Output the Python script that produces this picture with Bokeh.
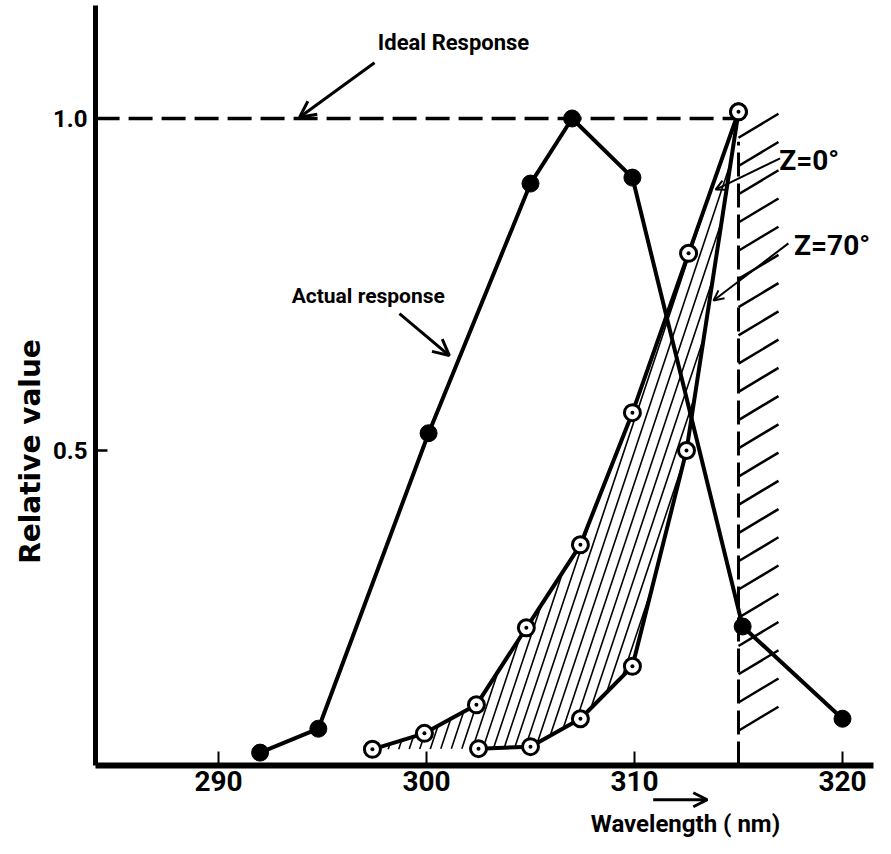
import numpy as np
from bokeh.plotting import figure
from bokeh.models import Range1d, FixedTicker, Label, Arrow, OpenHead
from bokeh.embed import file_html
from bokeh.resources import INLINE

# ---------------- data ----------------
actual_x = [292.0, 294.8, 300.1, 305.0, 307.0, 309.9, 315.2, 320.0]
actual_y = [0.045, 0.081, 0.526, 0.902, 1.000, 0.911, 0.235, 0.096]

z0_x = [297.4, 299.9, 302.4, 304.8, 307.4, 309.9, 312.6, 315.0]
z0_y = [0.050, 0.074, 0.117, 0.233, 0.358, 0.557, 0.797, 1.010]

z70_x = [302.5, 305.0, 307.4, 309.9, 312.5, 315.0]
z70_y = [0.051, 0.054, 0.096, 0.175, 0.500, 1.010]

cutoff_x = 315.0
x_ticks = [290, 300, 310, 320]
y_ticks = [0.5, 1.0]
y_tick_labels = {0.5: "0.5", 1.0: "1.0"}

# axis extents (data units)
AX_X0, AX_X1 = 284.09, 321.5
AX_Y0, AX_Y1 = 0.0256, 1.170

ideal_x = [AX_X0, cutoff_x]
ideal_y = [1.0, 1.0]

# ---------------- layout ----------------
W, H = 875, 838
X0, X1 = 279.519, 321.587
Y0, Y1 = -0.08434, 1.17771
SX = W / (X1 - X0)
SY = H / (Y1 - Y0)

FONT = "Roboto"

p = figure(width=W, height=H, output_backend="svg", toolbar_location=None,
           x_range=Range1d(X0, X1), y_range=Range1d(Y0, Y1),
           min_border_left=0, min_border_right=0, min_border_top=0,
           min_border_bottom=0)
p.outline_line_color = None
p.xgrid.visible = False
p.ygrid.visible = False
p.background_fill_color = "white"
p.border_fill_color = "white"

xa = p.xaxis[0]
xa.fixed_location = AX_Y0
xa.bounds = (AX_X0, AX_X1)
xa.ticker = FixedTicker(ticks=x_ticks)
xa.axis_line_width = 6
xa.axis_line_color = "black"
xa.major_tick_in = 14
xa.major_tick_out = 0
xa.major_tick_line_width = 2
xa.minor_tick_line_color = None
xa.major_label_text_font = FONT
xa.major_label_text_font_size = "28px"
xa.major_label_text_font_style = "bold"
xa.major_label_text_color = "black"
xa.major_label_standoff = 6

ya = p.yaxis[0]
ya.fixed_location = AX_X0
ya.bounds = (AX_Y0, AX_Y1)
ya.ticker = FixedTicker(ticks=y_ticks)
ya.major_label_overrides = y_tick_labels
ya.axis_line_width = 5
ya.axis_line_color = "black"
ya.major_tick_in = 12
ya.major_tick_out = 0
ya.major_tick_line_width = 2.5
ya.minor_tick_line_color = None
ya.major_label_text_font = FONT
ya.major_label_text_font_size = "24px"
ya.major_label_text_font_style = "bold"
ya.major_label_text_color = "black"
ya.major_label_standoff = 8


def to_px(x, y):
    return (np.asarray(x) - X0) * SX, (np.asarray(y) - Y0) * SY


def to_data(X, Y):
    return X0 + np.asarray(X) / SX, Y0 + np.asarray(Y) / SY


# ---------------- hatching between the two Z curves ----------------
poly_x = list(z0_x) + list(z70_x[::-1])
poly_y = list(z0_y) + list(z70_y[::-1])
PX, PY = to_px(poly_x, poly_y)
K = 3.0         # hatch slope in screen pixels
SPACING = 10.5  # hatch spacing in pixels
U = PX - PY / K
hx, hy = [], []
n = len(PX)
for c in np.arange(U.min() + SPACING / 2, U.max(), SPACING):
    pts = []
    for i in range(n):
        j = (i + 1) % n
        if (U[i] - c) * (U[j] - c) < 0:
            t = (c - U[i]) / (U[j] - U[i])
            pts.append((PX[i] + t * (PX[j] - PX[i]), PY[i] + t * (PY[j] - PY[i])))
    pts.sort(key=lambda q: q[1])
    for a in range(0, len(pts) - 1, 2):
        dx, dy = to_data([pts[a][0], pts[a + 1][0]], [pts[a][1], pts[a + 1][1]])
        hx.append([float(v) for v in dx])
        hy.append([float(v) for v in dy])
p.multi_line(hx, hy, line_color="black", line_width=1.6)

# ---------------- cut-off line with hatch ticks ----------------
p.line([cutoff_x, cutoff_x], [AX_Y0, 0.965], line_color="black", line_width=3,
       line_dash="24 7")
tick_y = np.linspace(0.078, 0.971, 22)
tick_dx = 40 / SX
tick_dy = 24 / SY
p.multi_line([[cutoff_x, cutoff_x + tick_dx] for _ in tick_y],
             [[float(ty), float(ty + tick_dy)] for ty in tick_y],
             line_color="black", line_width=2.5)

# ---------------- ideal response ----------------
p.line(ideal_x, ideal_y, line_color="black", line_width=3.5, line_dash="24 9")

# ---------------- curves ----------------
p.line(actual_x, actual_y, line_color="black", line_width=4)
p.scatter(actual_x, actual_y, size=17, marker="circle", fill_color="black",
          line_color="black")

p.line(z0_x, z0_y, line_color="black", line_width=4)
p.line(z70_x, z70_y, line_color="black", line_width=4)
p.scatter(z0_x, z0_y, size=16, marker="circle_dot", fill_color="white",
          line_color="black", line_width=3)
p.scatter(z70_x, z70_y, size=16, marker="circle_dot", fill_color="white",
          line_color="black", line_width=3)

# ---------------- annotations ----------------
def lab(x, y, text, size, font=FONT, style="bold", angle=0.0):
    p.add_layout(Label(x=x, y=y, text=text, text_align="center",
                       text_baseline="middle", text_font=font,
                       text_font_size=size, text_font_style=style,
                       text_color="black", angle=angle))


def arr(x0, y0, x1, y1, lw=3, hs=16):
    p.add_layout(Arrow(x_start=x0, y_start=y0, x_end=x1, y_end=y1,
                       line_width=lw, line_color="black",
                       end=OpenHead(size=hs, line_width=lw, line_color="black")))


lab(301.3, 1.115, "Ideal Response", "22px")
arr(297.5, 1.084, 293.9, 1.002)

lab(297.2, 0.733, "Actual response", "21px")
arr(298.7, 0.706, 301.1, 0.643)

lab(318.4, 0.937, "Z=0\u00b0", "28px")
arr(317.0, 0.94, 313.9, 0.893, lw=2, hs=10)

lab(319.5, 0.809, "Z=70\u00b0", "28px")
arr(317.4, 0.812, 313.8, 0.726, lw=2, hs=10)

lab(312.45, -0.062, "Wavelength ( nm)", "24px")
arr(310.9, -0.026, 313.5, -0.026, lw=3, hs=14)

lab(280.96, 0.4985, "Relative value", "28px", font="DejaVu Sans",
    angle=float(np.pi / 2))

open("out.html", "w").write(file_html(p, INLINE))
